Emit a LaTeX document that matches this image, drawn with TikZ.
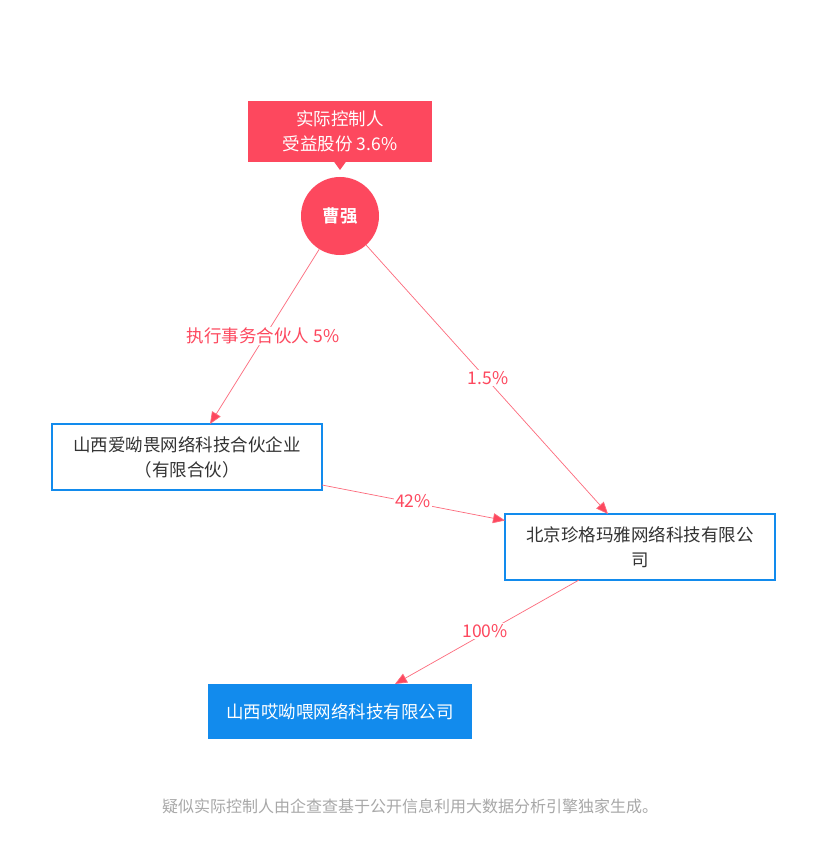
\documentclass[tikz,border=0pt]{standalone}
\usepackage{fontspec}
\newfontfamily\cjk{Noto Sans CJK SC}
\newfontfamily\cjkbold{Noto Sans CJK SC Bold}
\usetikzlibrary{arrows.meta}
\definecolor{qred}{HTML}{FD485E}
\definecolor{qline}{HTML}{FD6A7C}
\definecolor{qblue}{HTML}{128BED}
\definecolor{qtext}{HTML}{333333}
\definecolor{qgray}{HTML}{A8A8A8}
\tikzset{
  base/.style={font=\cjk\fontsize{17.5}{25}\selectfont, align=center, inner sep=0pt},
  redlabel/.style={base, fill=qred, text=white, minimum width=184pt, minimum height=61pt},
  person/.style={base, circle, fill=qred, text=white, minimum size=78pt, font=\cjkbold\fontsize{17.5}{25}\selectfont},
  company/.style={base, draw=qblue, line width=1.2pt, fill=white, text=qtext, minimum width=270pt, minimum height=66pt},
  target/.style={base, fill=qblue, text=white, minimum width=264pt, minimum height=55pt},
  conn/.style={draw=qline, line width=0.7pt, -{Triangle[length=12pt,width=10pt,fill=qred]}},
  pct/.style={font=\cjk\fontsize{17.5}{20}\selectfont, text=qred, fill=white, inner sep=1pt},
  foot/.style={font=\cjk\fontsize{16}{20}\selectfont, text=qgray, inner sep=0pt}
}
\begin{document}
\begin{tikzpicture}[x=1pt,y=-1pt]
\useasboundingbox (0,0) rectangle (829,842);
\fill[white] (0,0) rectangle (829,842);
% top label
\node[redlabel] (lbl) at (340,131.5) {实际控制人\\受益股份 3.6\%};
\fill[qred] (333.5,161) -- (340,170) -- (346.5,161) -- cycle;
% person
\node[person] (p) at (340,216) {曹强};
% companies
\node[company] (b1) at (187,457) {山西爱呦畏网络科技合伙企业\\（有限合伙）};
\node[company] (b2) at (640,547) {北京珍格玛雅网络科技有限公\\司};
\node[target] (t) at (340,711.5) {山西哎呦喂网络科技有限公司};
% connector end points
\coordinate (b1top) at (210,424);
\coordinate (b2top) at (608,514);
\coordinate (b1out) at (322,485);
\coordinate (b2in) at (505,520.5);
\coordinate (b2out) at (579,580);
\coordinate (ttop) at (395,684);
% connectors
\draw[conn] (p) -- (b1top);
\draw[conn] (p) -- (b2top);
\draw[conn] (b1out) -- (b2in);
\draw[conn] (b2out) -- (ttop);
% labels
\node[pct] (l1) at (263,336) {执行事务合伙人 5\%};
\node[pct] (l2) at (488,378) {1.5\%};
\node[pct] (l3) at (413,501) {42\%};
\node[pct] (l4) at (485,631) {100\%};
% footer
\node[foot] (f) at (410,806) {疑似实际控制人由企查查基于公开信息利用大数据分析引擎独家生成。};
\end{tikzpicture}
\end{document}
